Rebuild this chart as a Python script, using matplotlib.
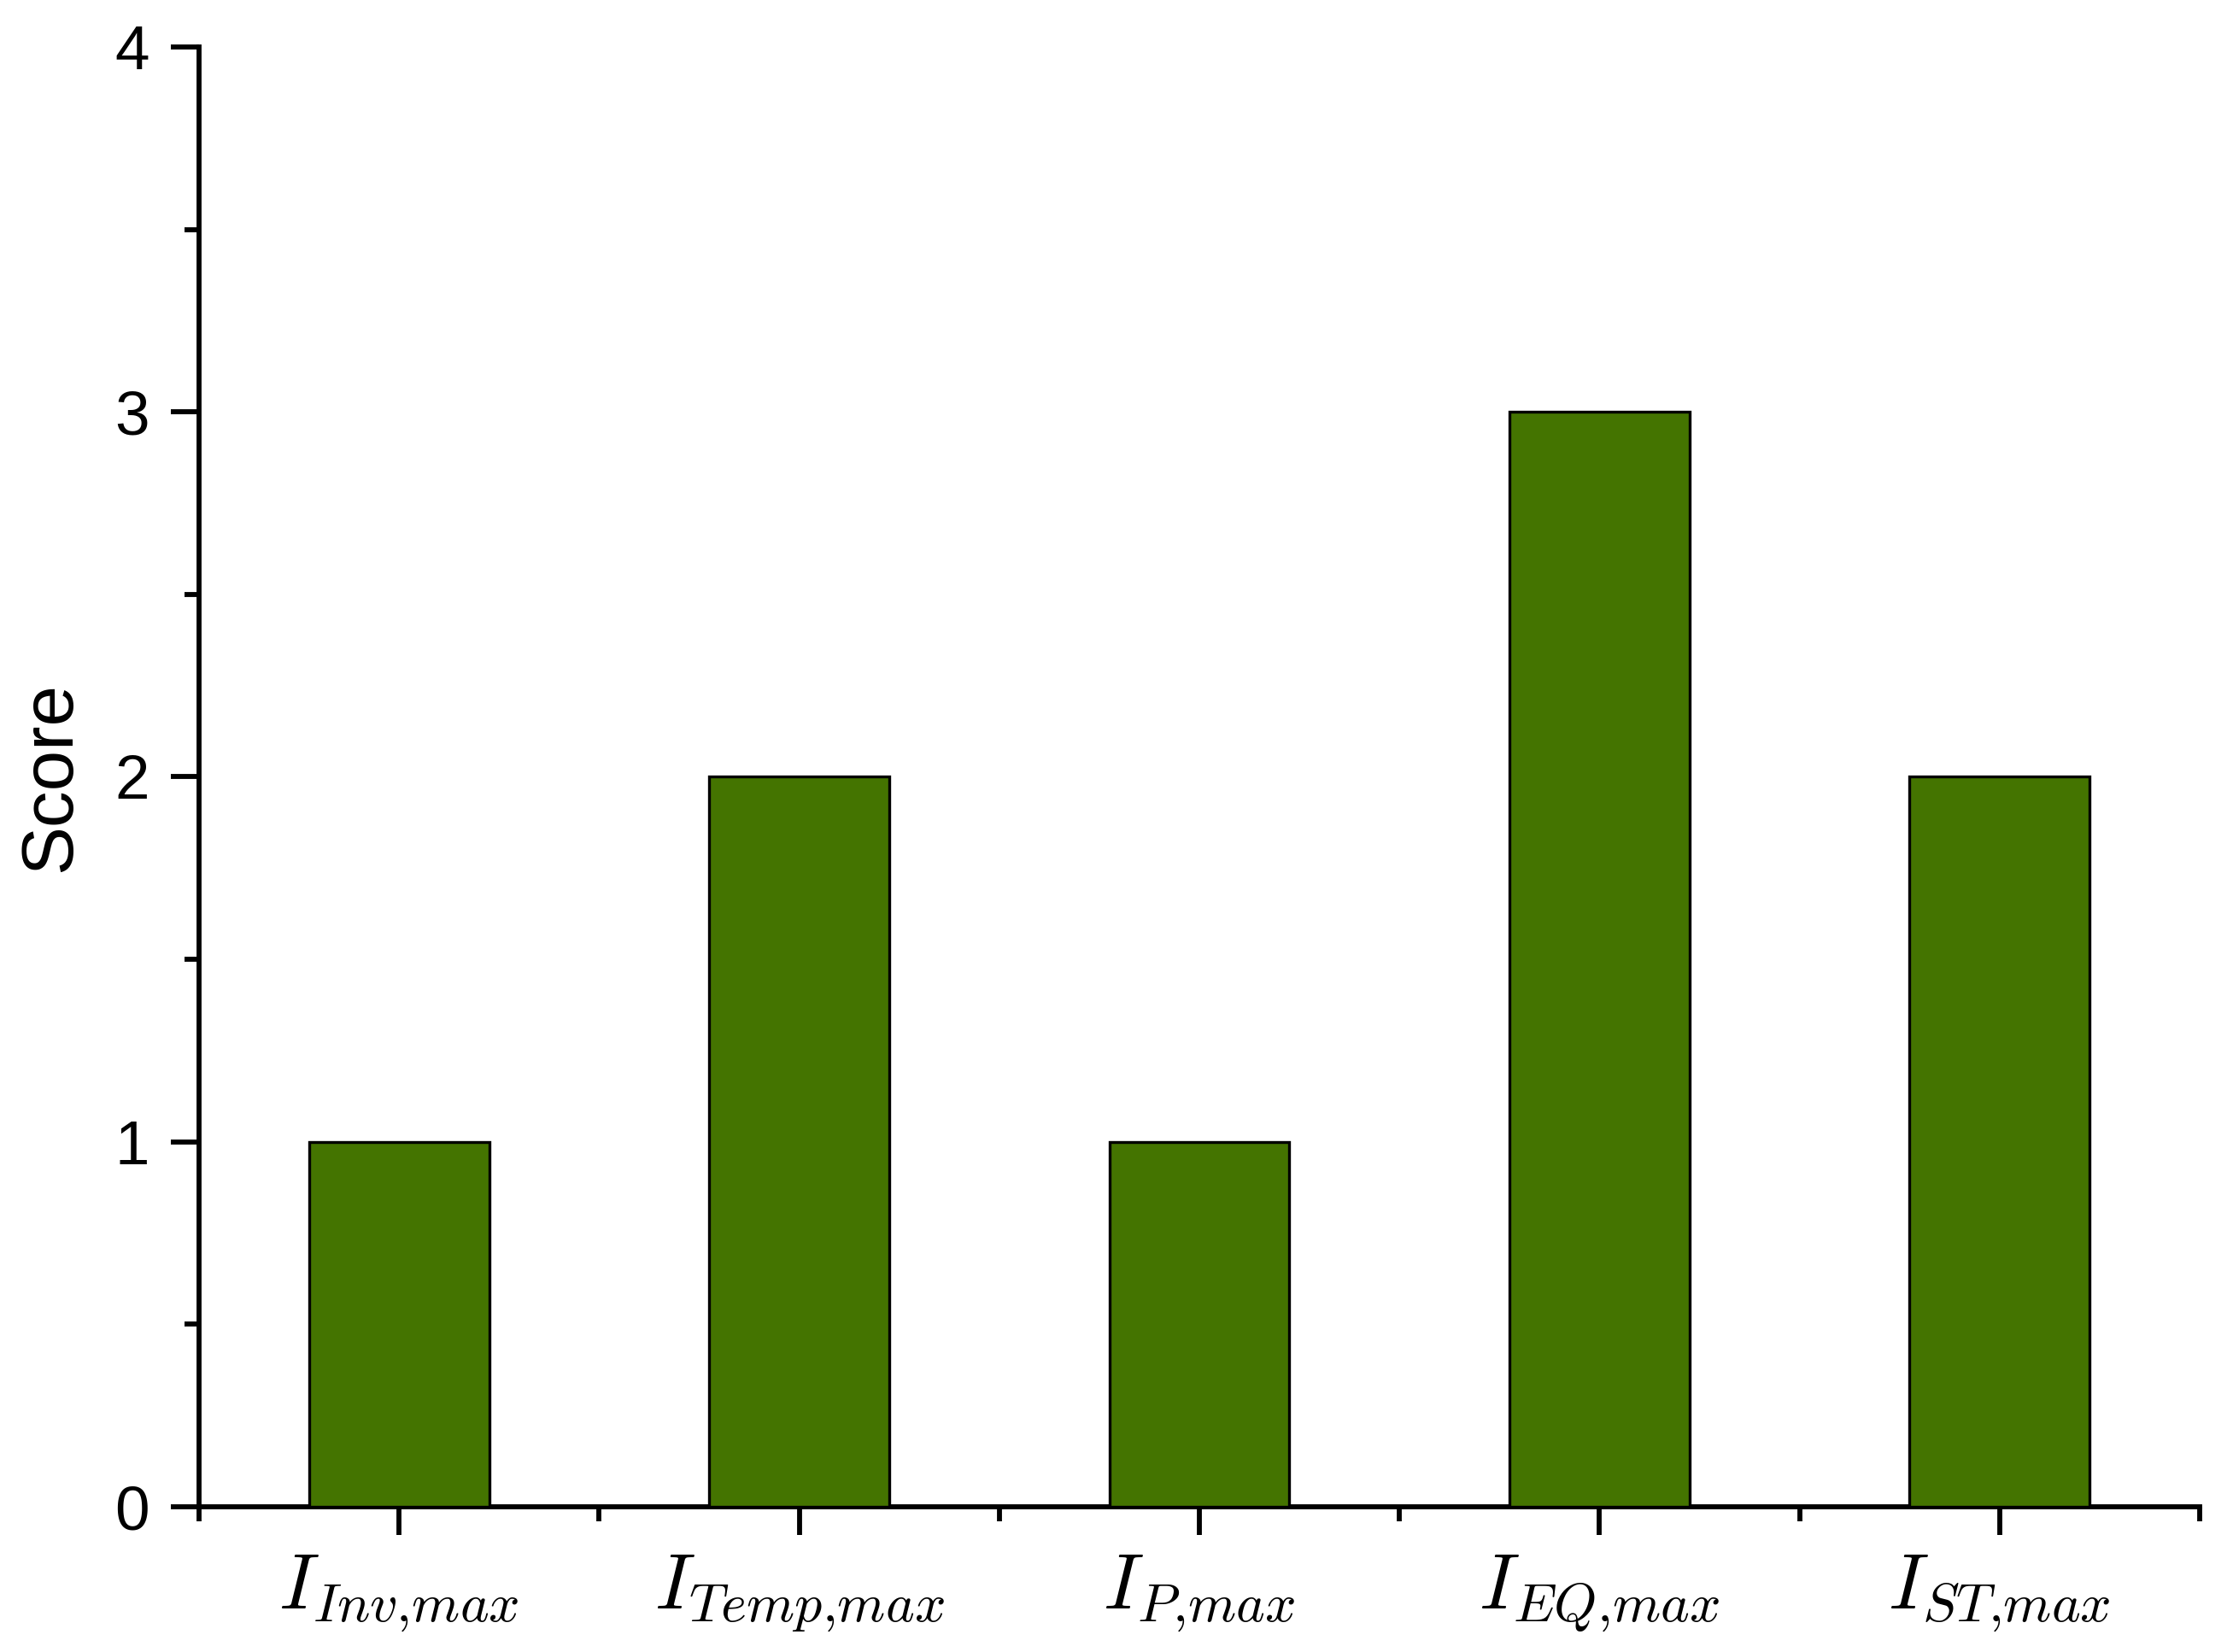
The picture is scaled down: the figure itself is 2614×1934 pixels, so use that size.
import numpy as np
import matplotlib
matplotlib.use('Agg')
import matplotlib.pyplot as plt
from matplotlib.ticker import MultipleLocator, FixedLocator

# Datos
categorias = [r'$I_{Inv{,}max}$', r'$I_{Temp{,}max}$', r'$I_{P{,}max}$',
              r'$I_{EQ{,}max}$', r'$I_{ST{,}max}$']
puntuacion = [1, 2, 1, 3, 2]

plt.rcParams['font.family'] = ['Liberation Sans', 'DejaVu Sans']
plt.rcParams['mathtext.fontset'] = 'cm'

fig = plt.figure(figsize=(2614 / 300, 1934 / 300), dpi=300)
ax = fig.add_axes([0.0891, 0.0879, 0.8960, 0.8837])

x = np.arange(len(categorias))
ax.bar(x, puntuacion, width=0.45, color='#447400', edgecolor='black', linewidth=0.8, zorder=3)

ax.set_xlim(-0.5, len(categorias) - 0.5)
ax.set_ylim(0, 4)
ax.set_xticks(x)
ax.set_xticklabels(categorias, fontsize=22)
ax.xaxis.set_minor_locator(FixedLocator(np.arange(-0.5, len(categorias), 1)))
ax.yaxis.set_major_locator(MultipleLocator(1))
ax.yaxis.set_minor_locator(MultipleLocator(0.5))

ax.tick_params(axis='both', which='major', length=8, width=1.4, direction='out')
ax.tick_params(axis='both', which='minor', length=4, width=1.4, direction='out')
ax.tick_params(axis='y', labelsize=17.5, pad=6)
ax.tick_params(axis='x', pad=5)

ax.spines['top'].set_visible(False)
ax.spines['right'].set_visible(False)
ax.spines['left'].set_linewidth(1.4)
ax.spines['bottom'].set_linewidth(1.4)

ax.set_ylabel('Score', fontsize=20.5, labelpad=8)

fig.savefig('out.png', dpi=300)
